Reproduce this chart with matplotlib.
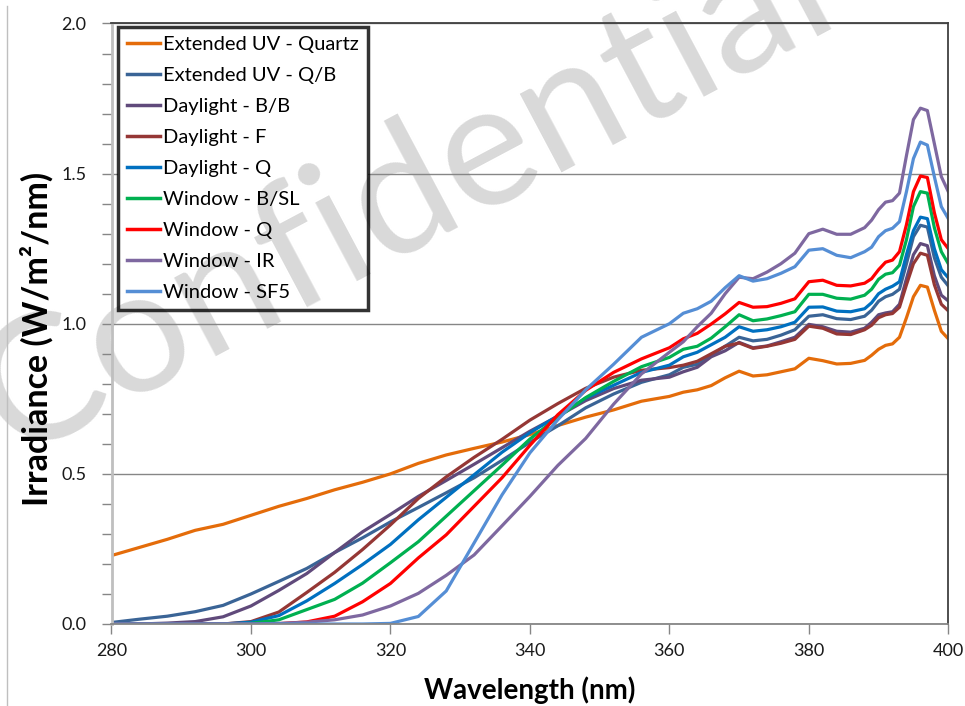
import matplotlib
matplotlib.use('Agg')
import matplotlib.pyplot as plt
from matplotlib.ticker import MultipleLocator, FormatStrFormatter
from matplotlib.patches import Rectangle
from matplotlib.lines import Line2D
from matplotlib.transforms import Bbox

plt.rcParams['font.family'] = ['Lato', 'DejaVu Sans']

# ---------------- data ----------------
wavelength = [280, 284, 288, 292, 296, 300, 304, 308, 312, 316,
              320, 324, 328, 332, 336, 340, 344, 348, 352, 356,
              360, 362, 364, 366, 368, 370, 372, 374, 376, 378,
              380, 382, 384, 386, 388, 389, 390, 391, 392, 393,
              394, 395, 396, 397, 398, 399, 400]

ext_uv_quartz = [0.228, 0.255, 0.282, 0.312, 0.332, 0.362, 0.392, 0.418, 0.447, 0.472,
                 0.500, 0.535, 0.563, 0.585, 0.606, 0.631, 0.661, 0.689, 0.713, 0.742,
                 0.758, 0.772, 0.780, 0.794, 0.820, 0.842, 0.826, 0.830, 0.840, 0.850,
                 0.885, 0.877, 0.866, 0.868, 0.878, 0.895, 0.915, 0.928, 0.933, 0.955,
                 1.020, 1.090, 1.128, 1.122, 1.045, 0.975, 0.950]

ext_uv_qb = [0.005, 0.016, 0.026, 0.041, 0.062, 0.100, 0.142, 0.185, 0.238, 0.287,
             0.340, 0.388, 0.437, 0.487, 0.545, 0.605, 0.660, 0.720, 0.766, 0.805,
             0.830, 0.855, 0.865, 0.895, 0.925, 0.955, 0.943, 0.948, 0.962, 0.980,
             1.025, 1.030, 1.017, 1.014, 1.025, 1.045, 1.075, 1.090, 1.098, 1.115,
             1.200, 1.290, 1.328, 1.322, 1.220, 1.155, 1.126]

daylight_bb = [0.000, 0.000, 0.003, 0.008, 0.024, 0.060, 0.112, 0.168, 0.238, 0.307,
               0.365, 0.425, 0.478, 0.532, 0.587, 0.642, 0.692, 0.744, 0.784, 0.812,
               0.822, 0.840, 0.855, 0.890, 0.910, 0.938, 0.920, 0.926, 0.940, 0.955,
               0.998, 0.990, 0.975, 0.972, 0.985, 1.005, 1.030, 1.036, 1.040, 1.065,
               1.150, 1.230, 1.267, 1.260, 1.160, 1.095, 1.076]

daylight_f = [0.000, 0.000, 0.000, 0.000, 0.000, 0.008, 0.040, 0.105, 0.172, 0.248,
              0.330, 0.418, 0.490, 0.555, 0.615, 0.679, 0.734, 0.785, 0.822, 0.845,
              0.854, 0.862, 0.875, 0.900, 0.925, 0.936, 0.918, 0.925, 0.935, 0.948,
              0.992, 0.985, 0.966, 0.964, 0.980, 0.995, 1.020, 1.030, 1.034, 1.055,
              1.130, 1.200, 1.235, 1.228, 1.130, 1.065, 1.043]

daylight_q = [0.000, 0.000, 0.000, 0.000, 0.000, 0.006, 0.028, 0.077, 0.135, 0.198,
              0.265, 0.347, 0.422, 0.497, 0.572, 0.637, 0.693, 0.752, 0.795, 0.838,
              0.862, 0.890, 0.905, 0.930, 0.955, 0.990, 0.975, 0.980, 0.990, 1.005,
              1.055, 1.056, 1.042, 1.040, 1.050, 1.070, 1.100, 1.115, 1.125, 1.140,
              1.230, 1.310, 1.355, 1.350, 1.250, 1.180, 1.153]

window_bsl = [0.000, 0.000, 0.000, 0.000, 0.000, 0.002, 0.014, 0.048, 0.082, 0.136,
              0.204, 0.274, 0.359, 0.444, 0.529, 0.616, 0.688, 0.754, 0.808, 0.857,
              0.888, 0.915, 0.925, 0.952, 0.990, 1.030, 1.010, 1.016, 1.027, 1.040,
              1.098, 1.098, 1.085, 1.082, 1.095, 1.115, 1.148, 1.165, 1.170, 1.195,
              1.280, 1.390, 1.440, 1.435, 1.320, 1.240, 1.200]

window_q = [0.000, 0.000, 0.000, 0.000, 0.000, 0.000, 0.001, 0.007, 0.026, 0.074,
            0.135, 0.220, 0.297, 0.392, 0.487, 0.595, 0.697, 0.778, 0.838, 0.883,
            0.920, 0.950, 0.968, 0.999, 1.033, 1.071, 1.055, 1.057, 1.068, 1.083,
            1.140, 1.145, 1.128, 1.126, 1.135, 1.150, 1.180, 1.205, 1.212, 1.240,
            1.330, 1.440, 1.492, 1.487, 1.370, 1.280, 1.250]

window_ir = [0.000, 0.000, 0.000, 0.000, 0.000, 0.000, 0.002, 0.006, 0.014, 0.030,
             0.060, 0.102, 0.162, 0.230, 0.327, 0.425, 0.528, 0.618, 0.732, 0.833,
             0.905, 0.940, 0.990, 1.035, 1.100, 1.155, 1.150, 1.172, 1.200, 1.235,
             1.300, 1.315, 1.298, 1.298, 1.320, 1.345, 1.380, 1.405, 1.410, 1.435,
             1.560, 1.680, 1.718, 1.710, 1.600, 1.490, 1.440]

window_sf5 = [0.000, 0.000, 0.000, 0.000, 0.000, 0.000, 0.000, 0.000, 0.000, 0.000,
              0.002, 0.025, 0.110, 0.270, 0.430, 0.570, 0.680, 0.780, 0.865, 0.955,
              1.000, 1.035, 1.050, 1.075, 1.120, 1.160, 1.142, 1.150, 1.168, 1.190,
              1.245, 1.250, 1.228, 1.220, 1.240, 1.255, 1.290, 1.310, 1.318, 1.340,
              1.440, 1.550, 1.605, 1.595, 1.490, 1.390, 1.350]

series_names = ['Extended UV - Quartz', 'Extended UV - Q/B', 'Daylight - B/B',
                'Daylight - F', 'Daylight - Q', 'Window - B/SL', 'Window - Q',
                'Window - IR', 'Window - SF5']
series_values = [ext_uv_quartz, ext_uv_qb, daylight_bb, daylight_f, daylight_q,
                 window_bsl, window_q, window_ir, window_sf5]
series_colors = ['#E46C0A', '#3A6496', '#604A7B', '#953735', '#0070C0',
                 '#00B050', '#FF0000', '#7E68A0', '#558ED5']

x_ticks = [280, 300, 320, 340, 360, 380, 400]
watermark_text = 'Confidential'

# ---------------- figure ----------------
W, H = 965, 706
fig = plt.figure(figsize=(W / 100, H / 100), dpi=100)
L, R, T, B = 111.5, 948.3, 23.5, 624.0
ax = fig.add_axes([L / W, 1 - B / H, (R - L) / W, (B - T) / H])
ax.set_facecolor('white')

for name, vals, col in zip(series_names, series_values, series_colors):
    ax.plot(wavelength, vals, color=col, lw=2.3, label=name,
            solid_joinstyle='round', zorder=2)

ax.set_xlim(280, 400)
ax.set_ylim(0, 2.0)
ax.set_xticks(x_ticks)
ax.yaxis.set_major_locator(MultipleLocator(0.5))
ax.yaxis.set_minor_locator(MultipleLocator(0.1))
ax.yaxis.set_major_formatter(FormatStrFormatter('%.1f'))

ax.tick_params(axis='both', which='both', direction='out', length=7, width=1,
               color='#868686', labelsize=13, labelcolor='#1a1a1a')
ax.tick_params(axis='y', pad=11)
ax.tick_params(axis='x', pad=7)

ax.grid(axis='y', which='major', color='#868686', lw=1)
ax.set_axisbelow(True)   # axis (grid, ticks, labels) at zorder 0.5

ax.spines['left'].set_color('#BFBFBF')
ax.spines['left'].set_linewidth(2)
ax.spines['bottom'].set_color('#868686')
ax.spines['bottom'].set_linewidth(1.3)
for s in ('top', 'right'):
    ax.spines[s].set_color('#404040')
    ax.spines[s].set_linewidth(1.3)

ax.set_xlabel('Wavelength (nm)', fontsize=20, fontweight='bold', color='black')
ax.xaxis.set_label_coords(0.5, (B - 676) / (B - T))
ax.set_ylabel('Irradiance (W/m²/nm)', fontsize=24.5, fontweight='bold', color='black')
ax.yaxis.set_label_coords((54 - L) / (R - L), (B - 339) / (B - T))

leg = ax.legend(loc='upper left',
                bbox_to_anchor=((118 - L) / (R - L), (B - 27) / (B - T)),
                borderaxespad=0, fontsize=14.5, frameon=True, fancybox=False,
                edgecolor='black', facecolor='none', handlelength=1.65,
                handletextpad=0.15, labelspacing=0.69, borderpad=0.45)
leg.get_frame().set_linewidth(2.5)
leg.set_zorder(5)
for h in leg.get_lines():
    h.set_linewidth(2.5)

# watermark (below axis texts and grid)
wm_kw = dict(transform=fig.transFigure, rotation=28, fontsize=126, color='#D9D9D9',
             ha='center', va='center', rotation_mode='anchor')
ax.text(405 / W, 1 - 195 / H, watermark_text, zorder=0.3, clip_on=False, **wm_kw)

# outer frame line on the left
fig.add_artist(Line2D([6.5 / W, 6.5 / W], [0, 1 - 6 / H], transform=fig.transFigure,
                      color='#BFBFBF', lw=1))

# white backing under legend (hides grid) + watermark copy clipped to it
fig.canvas.draw()
bb = leg.get_frame().get_window_extent()
inv = ax.transAxes.inverted()
(x0, y0), (x1, y1) = inv.transform([[bb.x0, bb.y0], [bb.x1, bb.y1]])
back = Rectangle((x0, y0), x1 - x0, y1 - y0, transform=ax.transAxes,
                 facecolor='white', edgecolor='none', zorder=1.1)
ax.add_patch(back)
wm2 = ax.text(405 / W, 1 - 195 / H, watermark_text, zorder=1.15, **wm_kw)
wm2.set_clip_on(True)
wm2.set_clip_path(None)
wm2.set_clip_box(Bbox([[bb.x0, bb.y0], [bb.x1, bb.y1]]))

fig.savefig('out.png', dpi=100)
